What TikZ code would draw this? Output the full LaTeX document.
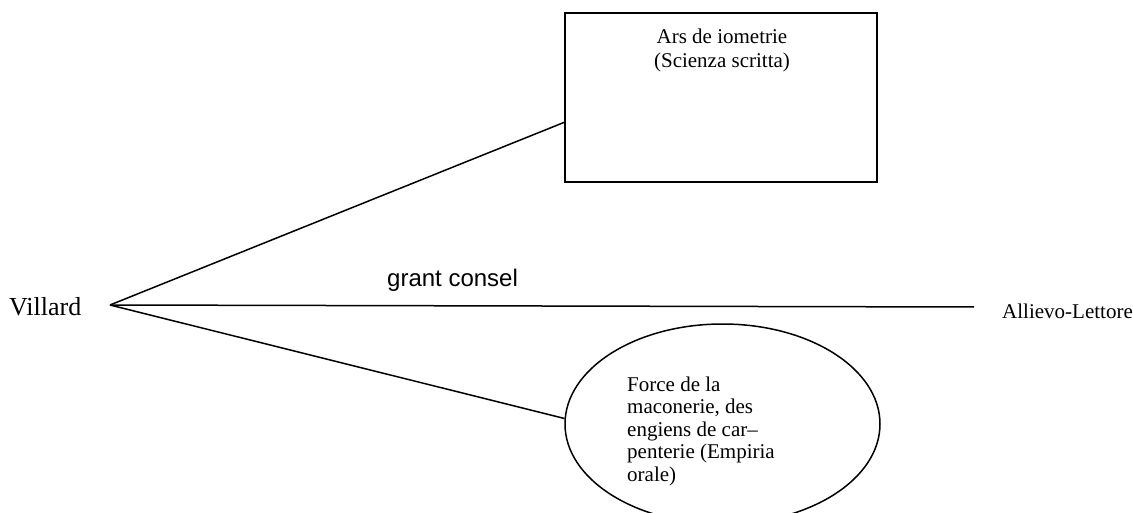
\documentclass[tikz,border=0pt]{standalone}
\usepackage{fontspec}
\setmainfont{Liberation Serif}
\newfontfamily\arialfont{Liberation Sans}
\usetikzlibrary{shapes.geometric}
\tikzset{
  conn/.style={line width=1.5pt, black},
  shapebox/.style={draw, line width=1.5pt, rectangle, minimum width=312pt, minimum height=169pt, inner sep=0pt},
  shapeell/.style={draw, line width=1.5pt, ellipse, minimum width=315pt, minimum height=200pt, inner sep=0pt},
  txt/.style={inner sep=0pt, font=\fontsize{21}{24}\selectfont},
}
\begin{document}
\begin{tikzpicture}[x=1pt,y=-1pt]
\useasboundingbox (0,0) rectangle (1133,513);
\node[shapebox] (box) at (721,97.5) {};
\node[txt, align=center, anchor=north] (boxtext) at (722,28.5) {Ars de iometrie\\(Scienza scritta)};
\node[shapeell] (ell) at (722.5,424) {};
\node[txt, font=\fontsize{21}{22.5}\selectfont, align=left, anchor=north west] (elltext) at (627,376.5) {Force de la\\maconerie, des\\engiens de car--\\penterie (Empiria\\orale)};
\coordinate (V) at (110,305);
\coordinate (E) at (974,307);
\node[inner sep=0pt, anchor=base west, font=\fontsize{26}{30}\selectfont] (villard) at (9,315) {Villard};
\node[txt, anchor=base west] (allievo) at (1002,318) {Allievo-Lettore};
\node[inner sep=0pt, anchor=base west, font=\arialfont\fontsize{24}{28}\selectfont] (grant) at (387,287) {grant consel};
\draw[conn] (V) -- (box.189.3);
\draw[conn] (V) -- (E);
\draw[conn] (V) -- (ell.178.5);
\end{tikzpicture}
\end{document}
